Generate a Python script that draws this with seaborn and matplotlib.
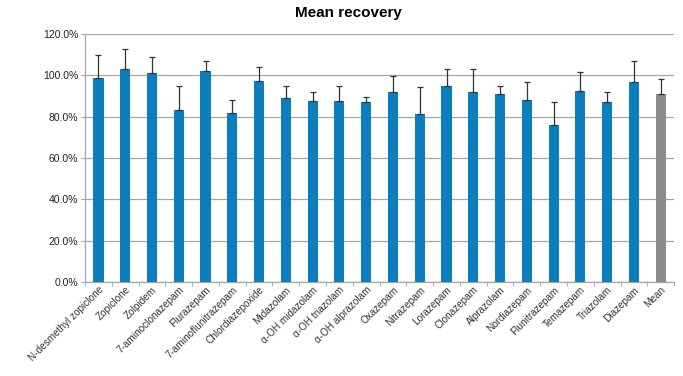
import pandas as pd
import numpy as np
import matplotlib
matplotlib.use("Agg")
import matplotlib.pyplot as plt
import seaborn as sns
from matplotlib.ticker import FuncFormatter, FixedLocator

compounds = [
    "N-desmethyl zopiclone", "Zopiclone", "Zolpidem", "7-aminoclonazepam",
    "Flurazepam", "7-aminoflunitrazepam", "Chlordiazepoxide", "Midazolam",
    "α-OH midazolam", "α-OH triazolam", "α-OH alprazolam", "Oxazepam",
    "Nitrazepam", "Lorazepam", "Clonazepam", "Alprazolam", "Nordiazepam",
    "Flunitrazepam", "Temazepam", "Triazolam", "Diazepam", "Mean",
]
recovery = [
    98.7, 102.8, 101.3, 83.0, 101.8, 81.6, 97.1, 88.8, 87.4, 87.4, 87.1,
    91.7, 81.4, 95.0, 91.7, 91.1, 88.2, 75.7, 92.2, 86.9, 96.9, 90.8,
]
error_sd = [
    11.0, 10.1, 7.4, 11.7, 5.3, 6.3, 6.8, 5.9, 4.5, 7.3, 2.2,
    7.8, 12.8, 8.2, 11.5, 3.6, 8.6, 11.4, 9.3, 5.0, 9.9, 7.3,
]

df = pd.DataFrame({"Compound": compounds, "Recovery": recovery, "SD": error_sd})
df["Group"] = ["Mean" if c == "Mean" else "Compound" for c in compounds]

plt.rcParams["font.family"] = ["Liberation Sans", "DejaVu Sans"]

fig = plt.figure(figsize=(6.83, 3.76), dpi=100)
ax = fig.add_axes([0.1245, 0.25, 0.8625, 0.66])

sns.barplot(
    data=df, x="Compound", y="Recovery", hue="Group",
    palette={"Compound": "#0B7EBE", "Mean": "#8C8C8C"},
    dodge=False, width=0.38, saturation=1, legend=False, ax=ax, zorder=3,
)
x = np.arange(len(compounds))
ax.errorbar(
    x, df["Recovery"], yerr=[np.zeros(len(x)), df["SD"]],
    fmt="none", ecolor="#333333", elinewidth=0.9, capsize=2.5, capthick=0.9, zorder=4,
)

ax.set_ylim(0, 120)
ax.set_xlim(-0.5, len(compounds) - 0.5)
ax.set_yticks(np.arange(0, 121, 20))
ax.yaxis.set_major_formatter(FuncFormatter(lambda v, p: f"{v:.1f}%"))
ax.grid(axis="y", color="#A6A6A6", linewidth=0.9, zorder=0)
ax.set_axisbelow(True)

for s in ["top", "right"]:
    ax.spines[s].set_visible(False)
for s in ["left", "bottom"]:
    ax.spines[s].set_color("#A6A6A6")
    ax.spines[s].set_linewidth(0.9)

ax.tick_params(axis="y", length=3, color="#A6A6A6", labelsize=7.5, pad=2)
ax.tick_params(axis="x", which="major", length=0, labelsize=7.2, pad=2)
ax.xaxis.set_minor_locator(FixedLocator(np.arange(-0.5, len(compounds), 1)))
ax.tick_params(axis="x", which="minor", length=3, color="#A6A6A6")
plt.setp(ax.get_xticklabels(), rotation=45, ha="right", rotation_mode="anchor", color="#333333")
plt.setp(ax.get_yticklabels(), color="#222222")
ax.set_xlabel("")
ax.set_ylabel("")

fig.text(0.51, 0.965, "Mean recovery", ha="center", va="center", fontsize=11, fontweight="bold")

fig.savefig("out.png", dpi=100)
